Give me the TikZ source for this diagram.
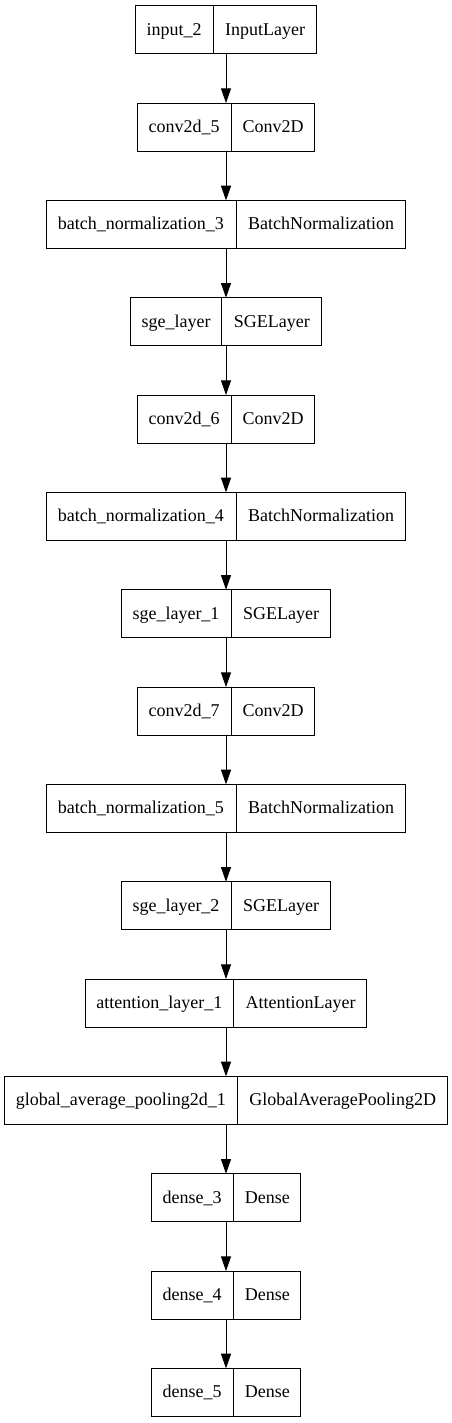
\documentclass[tikz,border=0pt]{standalone}
\usepackage{fontspec}
\setmainfont{Liberation Serif}
\usetikzlibrary{shapes.multipart, arrows.meta, positioning}

% name part | class part, each of fixed width
\newcommand{\lyr}[4]{\makebox[#1]{\rule[-14pt]{0pt}{36pt}#2}\nodepart{two}\makebox[#3]{\rule[-14pt]{0pt}{36pt}#4}}

\begin{document}
\begin{tikzpicture}[
    x=0.75pt, y=-0.75pt,
    layer/.style={draw, line width=0.75pt, rectangle split, rectangle split horizontal, rectangle split parts=2, inner sep=0pt, outer sep=0pt, font=\fontsize{13.5}{16}\selectfont},
    arrow/.style={-{Triangle[length=11pt, width=7.5pt]}, line width=0.75pt},
    node distance=37pt
]
\useasboundingbox (0,0) rectangle (452,1423);

% Nodes
\node [layer] (input2) at (226,29.7) {\lyr{58pt}{input\_2}{77.25pt}{InputLayer}};
\node [layer, below=of input2] (conv5) {\lyr{69.75pt}{conv2d\_5}{62pt}{Conv2D}};
\node [layer, below=of conv5] (bn3) {\lyr{142pt}{batch\_normalization\_3}{127pt}{BatchNormalization}};
\node [layer, below=of bn3] (sge0) {\lyr{68pt}{sge\_layer}{74.25pt}{SGELayer}};
\node [layer, below=of sge0] (conv6) {\lyr{69.75pt}{conv2d\_6}{62pt}{Conv2D}};
\node [layer, below=of conv6] (bn4) {\lyr{142pt}{batch\_normalization\_4}{127pt}{BatchNormalization}};
\node [layer, below=of bn4] (sge1) {\lyr{82pt}{sge\_layer\_1}{74.25pt}{SGELayer}};
\node [layer, below=of sge1] (conv7) {\lyr{69.75pt}{conv2d\_7}{62pt}{Conv2D}};
\node [layer, below=of conv7] (bn5) {\lyr{142pt}{batch\_normalization\_5}{127pt}{BatchNormalization}};
\node [layer, below=of bn5] (sge2) {\lyr{82pt}{sge\_layer\_2}{74.25pt}{SGELayer}};
\node [layer, below=of sge2] (att1) {\lyr{111pt}{attention\_layer\_1}{99.25pt}{AttentionLayer}};
\node [layer, below=of att1] (gap1) {\lyr{174.25pt}{global\_average\_pooling2d\_1}{157pt}{GlobalAveragePooling2D}};
\node [layer, below=of gap1] (dense3) {\lyr{61.2pt}{dense\_3}{50pt}{Dense}};
\node [layer, below=of dense3] (dense4) {\lyr{61.2pt}{dense\_4}{50pt}{Dense}};
\node [layer, below=of dense4] (dense5) {\lyr{61.2pt}{dense\_5}{50pt}{Dense}};

% Arrows
\draw [arrow] (input2) -- (conv5);
\draw [arrow] (conv5) -- (bn3);
\draw [arrow] (bn3) -- (sge0);
\draw [arrow] (sge0) -- (conv6);
\draw [arrow] (conv6) -- (bn4);
\draw [arrow] (bn4) -- (sge1);
\draw [arrow] (sge1) -- (conv7);
\draw [arrow] (conv7) -- (bn5);
\draw [arrow] (bn5) -- (sge2);
\draw [arrow] (sge2) -- (att1);
\draw [arrow] (att1) -- (gap1);
\draw [arrow] (gap1) -- (dense3);
\draw [arrow] (dense3) -- (dense4);
\draw [arrow] (dense4) -- (dense5);

\end{tikzpicture}
\end{document}
